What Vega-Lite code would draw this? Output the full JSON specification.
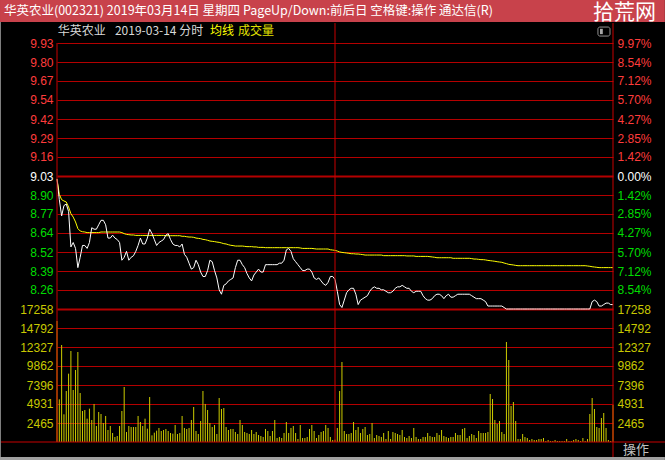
{
"$schema":"https://vega.github.io/schema/vega-lite/v6.json",
"width":556,"height":399,
"autosize":{"type":"none"},
"padding":{"left":57,"top":43,"right":52,"bottom":18},
"background":"#000000",
"config":{"view":{"stroke":null}},
"datasets":{"m":[
{"t":0,"p":9.01,"a":9.01,"v":15700},{"t":1,"p":8.87,"a":8.906,"v":5536},{"t":2,"p":8.76,"a":8.87,"v":12586},{"t":3,"p":8.83,"a":8.861,"v":3590},{"t":4,"p":8.84,"a":8.854,"v":6617},
{"t":5,"p":8.79,"a":8.82,"v":8866},{"t":6,"p":8.55,"a":8.775,"v":11807},{"t":7,"p":8.58,"a":8.752,"v":6747},{"t":8,"p":8.54,"a":8.719,"v":9342},{"t":9,"p":8.41,"a":8.674,"v":11677},
{"t":10,"p":8.48,"a":8.658,"v":6358},{"t":11,"p":8.56,"a":8.653,"v":4022},{"t":12,"p":8.56,"a":8.651,"v":4152},{"t":13,"p":8.54,"a":8.647,"v":3027},{"t":14,"p":8.58,"a":8.647,"v":4325},
{"t":15,"p":8.68,"a":8.647,"v":2855},{"t":16,"p":8.67,"a":8.647,"v":4931},{"t":17,"p":8.67,"a":8.647,"v":2076},{"t":18,"p":8.70,"a":8.647,"v":3892},{"t":19,"p":8.73,"a":8.651,"v":3633},
{"t":20,"p":8.73,"a":8.651,"v":2465},{"t":21,"p":8.70,"a":8.651,"v":3374},{"t":22,"p":8.61,"a":8.651,"v":1557},{"t":23,"p":8.61,"a":8.651,"v":2076},{"t":24,"p":8.63,"a":8.651,"v":1168},
{"t":25,"p":8.61,"a":8.651,"v":649},{"t":26,"p":8.60,"a":8.651,"v":779},{"t":27,"p":8.58,"a":8.651,"v":2076},{"t":28,"p":8.46,"a":8.647,"v":4022},{"t":29,"p":8.48,"a":8.64,"v":7136},
{"t":30,"p":8.52,"a":8.635,"v":1298},{"t":31,"p":8.46,"a":8.633,"v":2076},{"t":32,"p":8.48,"a":8.631,"v":1946},{"t":33,"p":8.49,"a":8.631,"v":1946},{"t":34,"p":8.52,"a":8.628,"v":1946},
{"t":35,"p":8.56,"a":8.628,"v":3374},{"t":36,"p":8.61,"a":8.628,"v":2595},{"t":37,"p":8.57,"a":8.628,"v":2076},{"t":38,"p":8.57,"a":8.628,"v":3027},{"t":39,"p":8.61,"a":8.628,"v":1730},
{"t":40,"p":8.67,"a":8.628,"v":5839},{"t":41,"p":8.64,"a":8.628,"v":865},{"t":42,"p":8.60,"a":8.628,"v":1211},{"t":43,"p":8.56,"a":8.628,"v":1470},{"t":44,"p":8.58,"a":8.628,"v":1817},
{"t":45,"p":8.59,"a":8.628,"v":1427},{"t":46,"p":8.60,"a":8.628,"v":1557},{"t":47,"p":8.63,"a":8.626,"v":1687},{"t":48,"p":8.64,"a":8.626,"v":1427},{"t":49,"p":8.60,"a":8.626,"v":1168},
{"t":50,"p":8.57,"a":8.626,"v":1081},{"t":51,"p":8.56,"a":8.626,"v":2206},{"t":52,"p":8.56,"a":8.626,"v":1038},{"t":53,"p":8.55,"a":8.626,"v":1168},{"t":54,"p":8.57,"a":8.622,"v":3374},
{"t":55,"p":8.50,"a":8.622,"v":1817},{"t":56,"p":8.48,"a":8.619,"v":1687},{"t":57,"p":8.44,"a":8.617,"v":1817},{"t":58,"p":8.40,"a":8.617,"v":2855},{"t":59,"p":8.41,"a":8.615,"v":4541},
{"t":60,"p":8.46,"a":8.61,"v":1427},{"t":61,"p":8.43,"a":8.608,"v":1038},{"t":62,"p":8.38,"a":8.606,"v":2725},{"t":63,"p":8.35,"a":8.601,"v":6617},{"t":64,"p":8.35,"a":8.599,"v":4931},
{"t":65,"p":8.39,"a":8.595,"v":4152},{"t":66,"p":8.46,"a":8.59,"v":2465},{"t":67,"p":8.45,"a":8.588,"v":1946},{"t":68,"p":8.39,"a":8.586,"v":2206},{"t":69,"p":8.34,"a":8.583,"v":1038},
{"t":70,"p":8.26,"a":8.581,"v":5709},{"t":71,"p":8.23,"a":8.577,"v":4282},{"t":72,"p":8.29,"a":8.572,"v":4411},{"t":73,"p":8.30,"a":8.57,"v":1946},{"t":74,"p":8.32,"a":8.565,"v":1557},
{"t":75,"p":8.33,"a":8.561,"v":1687},{"t":76,"p":8.34,"a":8.559,"v":1687},{"t":77,"p":8.41,"a":8.556,"v":1298},{"t":78,"p":8.46,"a":8.556,"v":1038},{"t":79,"p":8.46,"a":8.556,"v":2855},
{"t":80,"p":8.43,"a":8.556,"v":2206},{"t":81,"p":8.41,"a":8.554,"v":1298},{"t":82,"p":8.37,"a":8.552,"v":1168},{"t":83,"p":8.34,"a":8.552,"v":1038},{"t":84,"p":8.32,"a":8.552,"v":1557},
{"t":85,"p":8.36,"a":8.55,"v":1038},{"t":86,"p":8.38,"a":8.55,"v":1298},{"t":87,"p":8.40,"a":8.547,"v":908},{"t":88,"p":8.38,"a":8.547,"v":779},{"t":89,"p":8.38,"a":8.547,"v":649},
{"t":90,"p":8.43,"a":8.545,"v":1687},{"t":91,"p":8.43,"a":8.545,"v":1427},{"t":92,"p":8.43,"a":8.545,"v":779},{"t":93,"p":8.43,"a":8.545,"v":1427},{"t":94,"p":8.43,"a":8.545,"v":2855},
{"t":95,"p":8.43,"a":8.545,"v":519},{"t":96,"p":8.44,"a":8.545,"v":649},{"t":97,"p":8.44,"a":8.545,"v":519},{"t":98,"p":8.46,"a":8.545,"v":1168},{"t":99,"p":8.53,"a":8.545,"v":2595},
{"t":100,"p":8.54,"a":8.545,"v":1168},{"t":101,"p":8.52,"a":8.545,"v":1817},{"t":102,"p":8.47,"a":8.545,"v":2076},{"t":103,"p":8.45,"a":8.545,"v":1168},{"t":104,"p":8.43,"a":8.545,"v":389},
{"t":105,"p":8.41,"a":8.543,"v":2206},{"t":106,"p":8.39,"a":8.54,"v":519},{"t":107,"p":8.39,"a":8.54,"v":519},{"t":108,"p":8.40,"a":8.54,"v":649},{"t":109,"p":8.40,"a":8.54,"v":1687},
{"t":110,"p":8.38,"a":8.54,"v":2206},{"t":111,"p":8.34,"a":8.538,"v":1427},{"t":112,"p":8.33,"a":8.536,"v":519},{"t":113,"p":8.34,"a":8.536,"v":908},{"t":114,"p":8.32,"a":8.536,"v":1298},
{"t":115,"p":8.30,"a":8.536,"v":1427},{"t":116,"p":8.29,"a":8.536,"v":2206},{"t":117,"p":8.31,"a":8.536,"v":1817},{"t":118,"p":8.35,"a":8.531,"v":649},{"t":119,"p":8.35,"a":8.529,"v":260},
{"t":120,"p":8.33,"a":8.527,"v":300},{"t":121,"p":8.25,"a":8.522,"v":1817},{"t":122,"p":8.16,"a":8.516,"v":6617},{"t":123,"p":8.14,"a":8.513,"v":10380},{"t":124,"p":8.19,"a":8.511,"v":1427},
{"t":125,"p":8.24,"a":8.509,"v":1038},{"t":126,"p":8.26,"a":8.507,"v":1038},{"t":127,"p":8.27,"a":8.504,"v":1168},{"t":128,"p":8.27,"a":8.504,"v":2595},{"t":129,"p":8.23,"a":8.502,"v":1557},
{"t":130,"p":8.16,"a":8.502,"v":1946},{"t":131,"p":8.19,"a":8.5,"v":1168},{"t":132,"p":8.20,"a":8.498,"v":1687},{"t":133,"p":8.21,"a":8.495,"v":1946},{"t":134,"p":8.22,"a":8.495,"v":908},
{"t":135,"p":8.25,"a":8.495,"v":1038},{"t":136,"p":8.27,"a":8.495,"v":2465},{"t":137,"p":8.28,"a":8.495,"v":519},{"t":138,"p":8.27,"a":8.495,"v":908},{"t":139,"p":8.27,"a":8.495,"v":779},
{"t":140,"p":8.26,"a":8.495,"v":649},{"t":141,"p":8.26,"a":8.491,"v":1168},{"t":142,"p":8.25,"a":8.491,"v":389},{"t":143,"p":8.24,"a":8.491,"v":1427},{"t":144,"p":8.24,"a":8.491,"v":389},
{"t":145,"p":8.25,"a":8.491,"v":1298},{"t":146,"p":8.27,"a":8.491,"v":1168},{"t":147,"p":8.28,"a":8.491,"v":1038},{"t":148,"p":8.28,"a":8.491,"v":908},{"t":149,"p":8.29,"a":8.491,"v":1557},
{"t":150,"p":8.28,"a":8.491,"v":649},{"t":151,"p":8.27,"a":8.489,"v":519},{"t":152,"p":8.27,"a":8.489,"v":779},{"t":153,"p":8.25,"a":8.489,"v":519},{"t":154,"p":8.24,"a":8.489,"v":1817},
{"t":155,"p":8.25,"a":8.486,"v":649},{"t":156,"p":8.25,"a":8.486,"v":389},{"t":157,"p":8.25,"a":8.486,"v":389},{"t":158,"p":8.22,"a":8.486,"v":649},{"t":159,"p":8.20,"a":8.486,"v":649},
{"t":160,"p":8.19,"a":8.486,"v":1168},{"t":161,"p":8.19,"a":8.484,"v":779},{"t":162,"p":8.20,"a":8.482,"v":649},{"t":163,"p":8.22,"a":8.48,"v":649},{"t":164,"p":8.23,"a":8.477,"v":1168},
{"t":165,"p":8.23,"a":8.477,"v":908},{"t":166,"p":8.22,"a":8.477,"v":1557},{"t":167,"p":8.20,"a":8.477,"v":779},{"t":168,"p":8.22,"a":8.477,"v":649},{"t":169,"p":8.23,"a":8.477,"v":519},
{"t":170,"p":8.21,"a":8.477,"v":649},{"t":171,"p":8.21,"a":8.473,"v":649},{"t":172,"p":8.22,"a":8.473,"v":1168},{"t":173,"p":8.23,"a":8.473,"v":908},{"t":174,"p":8.23,"a":8.473,"v":908},
{"t":175,"p":8.23,"a":8.473,"v":1687},{"t":176,"p":8.23,"a":8.473,"v":1817},{"t":177,"p":8.23,"a":8.473,"v":519},{"t":178,"p":8.23,"a":8.473,"v":779},{"t":179,"p":8.22,"a":8.471,"v":1038},
{"t":180,"p":8.21,"a":8.468,"v":908},{"t":181,"p":8.20,"a":8.468,"v":519},{"t":182,"p":8.20,"a":8.466,"v":1427},{"t":183,"p":8.20,"a":8.464,"v":1168},{"t":184,"p":8.19,"a":8.464,"v":1168},
{"t":185,"p":8.18,"a":8.462,"v":1168},{"t":186,"p":8.15,"a":8.459,"v":1298},{"t":187,"p":8.15,"a":8.457,"v":6228},{"t":188,"p":8.15,"a":8.455,"v":5579},{"t":189,"p":8.15,"a":8.453,"v":2855},
{"t":190,"p":8.15,"a":8.45,"v":2336},{"t":191,"p":8.15,"a":8.448,"v":2725},{"t":192,"p":8.15,"a":8.446,"v":1298},{"t":193,"p":8.14,"a":8.441,"v":1038},{"t":194,"p":8.13,"a":8.437,"v":12975},
{"t":195,"p":8.13,"a":8.432,"v":10640},{"t":196,"p":8.13,"a":8.43,"v":4671},{"t":197,"p":8.13,"a":8.428,"v":5190},{"t":198,"p":8.13,"a":8.425,"v":2725},{"t":199,"p":8.13,"a":8.423,"v":389},
{"t":200,"p":8.13,"a":8.423,"v":389},{"t":201,"p":8.13,"a":8.423,"v":1038},{"t":202,"p":8.13,"a":8.423,"v":649},{"t":203,"p":8.13,"a":8.423,"v":519},{"t":204,"p":8.13,"a":8.423,"v":260},
{"t":205,"p":8.13,"a":8.423,"v":389},{"t":206,"p":8.13,"a":8.423,"v":260},{"t":207,"p":8.13,"a":8.423,"v":260},{"t":208,"p":8.13,"a":8.423,"v":389},{"t":209,"p":8.13,"a":8.423,"v":389},
{"t":210,"p":8.13,"a":8.423,"v":519},{"t":211,"p":8.13,"a":8.423,"v":130},{"t":212,"p":8.13,"a":8.423,"v":260},{"t":213,"p":8.13,"a":8.423,"v":130},{"t":214,"p":8.13,"a":8.423,"v":130},
{"t":215,"p":8.13,"a":8.423,"v":260},{"t":216,"p":8.13,"a":8.423,"v":130},{"t":217,"p":8.13,"a":8.423,"v":130},{"t":218,"p":8.13,"a":8.423,"v":130},{"t":219,"p":8.13,"a":8.423,"v":130},
{"t":220,"p":8.13,"a":8.423,"v":389},{"t":221,"p":8.13,"a":8.423,"v":130},{"t":222,"p":8.13,"a":8.423,"v":130},{"t":223,"p":8.13,"a":8.423,"v":260},{"t":224,"p":8.13,"a":8.423,"v":389},
{"t":225,"p":8.13,"a":8.423,"v":260},{"t":226,"p":8.13,"a":8.423,"v":130},{"t":227,"p":8.13,"a":8.423,"v":519},{"t":228,"p":8.13,"a":8.423,"v":130},{"t":229,"p":8.13,"a":8.421,"v":389},
{"t":230,"p":8.13,"a":8.419,"v":3633},{"t":231,"p":8.18,"a":8.416,"v":5709},{"t":232,"p":8.19,"a":8.414,"v":4282},{"t":233,"p":8.18,"a":8.412,"v":1946},{"t":234,"p":8.15,"a":8.41,"v":1817},
{"t":235,"p":8.15,"a":8.41,"v":3114},{"t":236,"p":8.16,"a":8.41,"v":3763},{"t":237,"p":8.17,"a":8.41,"v":1817},{"t":238,"p":8.17,"a":8.41,"v":260},{"t":239,"p":8.16,"a":8.41,"v":130},
{"t":240,"p":8.16,"a":8.41,"v":4800}
]},
"resolve":{"scale":{"y":"independent"},"axis":{"y":"independent"}},
"layer":[
{"data":{"values":[{}]},"mark":{"type":"rect","color":"#c8424b"},
 "encoding":{"x":{"datum":-24.6,"type":"quantitative","scale":{"domain":[0,240],"nice":false,"zero":false},"axis":null},"x2":{"datum":262.4},
 "y":{"datum":10.225,"type":"quantitative","scale":{"domain":[8.13,9.93],"range":[266,0],"nice":false,"zero":false},"axis":null},"y2":{"datum":10.072}}},
{"data":{"values":[{}]},"mark":{"type":"text","text":"华英农业(002321) 2019年03月14日 星期四 PageUp/Down:前后日 空格键:操作 通达信(R)","align":"left","baseline":"middle","color":"#ffffff","font":"Noto Sans CJK SC","fontSize":12.5},
 "encoding":{"x":{"datum":-22.9,"type":"quantitative","scale":{"domain":[0,240],"nice":false,"zero":false},"axis":null},
 "y":{"datum":10.1465,"type":"quantitative","scale":{"domain":[8.13,9.93],"range":[266,0],"nice":false,"zero":false},"axis":null}}},
{"data":{"values":[{}]},"mark":{"type":"text","text":"拾荒网","align":"center","baseline":"middle","color":"#ffffff","font":"Noto Sans CJK SC","fontSize":21},
 "encoding":{"x":{"datum":245.0,"type":"quantitative","scale":{"domain":[0,240],"nice":false,"zero":false},"axis":null},
 "y":{"datum":10.133,"type":"quantitative","scale":{"domain":[8.13,9.93],"range":[266,0],"nice":false,"zero":false},"axis":null}}},
{"data":{"values":[{}]},"mark":{"type":"text","text":"华英农业","align":"left","baseline":"middle","color":"#d8d8d8","font":"Noto Sans CJK SC","fontSize":12},
 "encoding":{"x":{"datum":0.3,"type":"quantitative","scale":{"domain":[0,240],"nice":false,"zero":false},"axis":null},
 "y":{"datum":10.011,"type":"quantitative","scale":{"domain":[8.13,9.93],"range":[266,0],"nice":false,"zero":false},"axis":null}}},
{"data":{"values":[{}]},"mark":{"type":"text","text":"2019-03-14 分时","align":"left","baseline":"middle","color":"#d8d8d8","font":"Noto Sans CJK SC","fontSize":12},
 "encoding":{"x":{"datum":25.0,"type":"quantitative","scale":{"domain":[0,240],"nice":false,"zero":false},"axis":null},
 "y":{"datum":10.011,"type":"quantitative","scale":{"domain":[8.13,9.93],"range":[266,0],"nice":false,"zero":false},"axis":null}}},
{"data":{"values":[{}]},"mark":{"type":"text","text":"均线","align":"left","baseline":"middle","color":"#ffff00","font":"Noto Sans CJK SC","fontSize":12},
 "encoding":{"x":{"datum":66.0,"type":"quantitative","scale":{"domain":[0,240],"nice":false,"zero":false},"axis":null},
 "y":{"datum":10.011,"type":"quantitative","scale":{"domain":[8.13,9.93],"range":[266,0],"nice":false,"zero":false},"axis":null}}},
{"data":{"values":[{}]},"mark":{"type":"text","text":"成交量","align":"left","baseline":"middle","color":"#e0e000","font":"Noto Sans CJK SC","fontSize":12},
 "encoding":{"x":{"datum":78.1,"type":"quantitative","scale":{"domain":[0,240],"nice":false,"zero":false},"axis":null},
 "y":{"datum":10.011,"type":"quantitative","scale":{"domain":[8.13,9.93],"range":[266,0],"nice":false,"zero":false},"axis":null}}},
{"data":{"values":[{}]},"mark":{"type":"rect","fill":null,"stroke":"#909090","strokeWidth":1,"cornerRadius":2},
 "encoding":{"x":{"datum":233.5,"type":"quantitative","scale":{"domain":[0,240],"nice":false,"zero":false},"axis":null},"x2":{"datum":238.7},
 "y":{"datum":10.038,"type":"quantitative","scale":{"domain":[8.13,9.93],"range":[266,0],"nice":false,"zero":false},"axis":null},"y2":{"datum":9.977}}},
{"data":{"values":[{}]},"mark":{"type":"rect","color":"#a8a8a8"},
 "encoding":{"x":{"datum":234.4,"type":"quantitative","scale":{"domain":[0,240],"nice":false,"zero":false},"axis":null},"x2":{"datum":235.6},
 "y":{"datum":10.026,"type":"quantitative","scale":{"domain":[8.13,9.93],"range":[266,0],"nice":false,"zero":false},"axis":null},"y2":{"datum":9.99}}},
{"data":{"name":"m"},"mark":{"type":"rule","color":"#cccc00","strokeWidth":1},
 "encoding":{"x":{"field":"t","type":"quantitative","scale":{"domain":[0,240],"nice":false,"zero":false},
   "axis":{"orient":"bottom","values":[0,30,60,90,120,150,180,210,240],"labelExpr":"datum.value==0?'09:30':datum.value==60?'10:30':datum.value==120?'13:00':datum.value==180?'14:00':datum.value==240?'15:00':''","labelAlign":"right","labelBaseline":"top","labelFlush":false,"labelOverlap":false,"labelColor":"#ff3c3c","labelFont":"Liberation Sans","labelFontSize":12,"labelPadding":2,"ticks":false,"domain":false,"grid":true,"gridColor":"#c80000","gridDash":[1,2],"gridWidth":1,"title":null}},
 "y":{"field":"v","type":"quantitative","scale":{"domain":[0,17258],"range":[399,266],"nice":false,"zero":false},
   "axis":{"orient":"left","values":[2465,4931,7396,9862,12327,14792,17258],"format":"d","title":null,"ticks":false,"labelPadding":4,"labelColor":"#c8c800","labelFont":"Liberation Sans","labelFontSize":12,"labelOverlap":false,"domain":false,"grid":true,"gridColor":"#b40000","gridWidth":{"condition":{"test":"datum.value>17000","value":2},"value":1}}},
 "y2":{"datum":0}}},
{"data":{"values":[{}]},"mark":{"type":"rule","color":"#c80000","strokeWidth":1},
 "encoding":{"x":{"datum":-24.6,"type":"quantitative","scale":{"domain":[0,240],"nice":false,"zero":false},"axis":null},"x2":{"datum":262.4},
 "y":{"datum":0,"type":"quantitative","scale":{"domain":[0,17258],"range":[399,266],"nice":false,"zero":false},
   "axis":{"orient":"right","values":[2465,4931,7396,9862,12327,14792,17258],"format":"d","title":null,"ticks":false,"labelPadding":4,"labelColor":"#c8c800","labelFont":"Liberation Sans","labelFontSize":12,"labelOverlap":false,"domain":false,"grid":false}}}},
{"data":{"name":"m"},"mark":{"type":"line","color":"#ffff00","strokeWidth":1},
 "encoding":{"x":{"field":"t","type":"quantitative","scale":{"domain":[0,240],"nice":false,"zero":false},"axis":null},
 "y":{"field":"a","type":"quantitative","scale":{"domain":[8.13,9.93],"range":[266,0],"nice":false,"zero":false},
   "axis":{"orient":"right","values":[8.2586,8.3871,8.5157,8.6443,8.7729,8.9014,9.03,9.1586,9.2871,9.4157,9.5443,9.6729,9.8014,9.93],"labelExpr":"format(abs(datum.value-9.03)/9.03*100,'.2f')+'%'","title":null,"ticks":false,"labelPadding":4,"labelFont":"Liberation Sans","labelFontSize":12,"labelOverlap":false,"domain":false,"grid":false,
     "labelColor":{"condition":[{"test":"datum.value>9.035","value":"#ff3c3c"},{"test":"datum.value<9.025","value":"#00dd00"}],"value":"#ffffff"}}}}},
{"data":{"name":"m"},"mark":{"type":"line","color":"#ffffff","strokeWidth":1},
 "encoding":{"x":{"field":"t","type":"quantitative","scale":{"domain":[0,240],"nice":false,"zero":false},"axis":null},
 "y":{"field":"p","type":"quantitative","scale":{"domain":[8.13,9.93],"range":[266,0],"nice":false,"zero":false},
   "axis":{"orient":"left","values":[8.2586,8.3871,8.5157,8.6443,8.7729,8.9014,9.03,9.1586,9.2871,9.4157,9.5443,9.6729,9.8014,9.93],"format":".2f","title":null,"ticks":false,"labelPadding":4,"labelFont":"Liberation Sans","labelFontSize":12,"labelOverlap":false,"domain":false,"grid":true,"gridColor":"#b40000",
     "gridWidth":{"condition":{"test":"abs(datum.value-9.03)<0.001","value":2},"value":1},
     "labelColor":{"condition":[{"test":"datum.value>9.035","value":"#ff3c3c"},{"test":"datum.value<9.025","value":"#00dd00"}],"value":"#ffffff"}}}}},
{"data":{"values":[{}]},"mark":{"type":"rule","color":"#c80000","strokeWidth":1},
 "encoding":{"x":{"datum":0,"type":"quantitative","scale":{"domain":[0,240],"nice":false,"zero":false},"axis":null},
 "y":{"datum":9.93,"type":"quantitative","scale":{"domain":[8.13,9.93],"range":[266,0],"nice":false,"zero":false},"axis":null},"y2":{"datum":7.2306}}},
{"data":{"values":[{}]},"mark":{"type":"rule","color":"#c80000","strokeWidth":1},
 "encoding":{"x":{"datum":120,"type":"quantitative","scale":{"domain":[0,240],"nice":false,"zero":false},"axis":null},
 "y":{"datum":10.065,"type":"quantitative","scale":{"domain":[8.13,9.93],"range":[266,0],"nice":false,"zero":false},"axis":null},"y2":{"datum":7.2306}}},
{"data":{"values":[{}]},"mark":{"type":"rule","color":"#c80000","strokeWidth":1},
 "encoding":{"x":{"datum":240,"type":"quantitative","scale":{"domain":[0,240],"nice":false,"zero":false},"axis":null},
 "y":{"datum":10.065,"type":"quantitative","scale":{"domain":[8.13,9.93],"range":[266,0],"nice":false,"zero":false},"axis":null},"y2":{"datum":7.108}}},
{"data":{"values":[{}]},"mark":{"type":"rule","color":"#808080","strokeWidth":1},
 "encoding":{"x":{"datum":-24.39,"type":"quantitative","scale":{"domain":[0,240],"nice":false,"zero":false},"axis":null},
 "y":{"datum":10.072,"type":"quantitative","scale":{"domain":[8.13,9.93],"range":[266,0],"nice":false,"zero":false},"axis":null},"y2":{"datum":7.108}}},
{"data":{"values":[{}]},"mark":{"type":"rect","color":"#a0a0a0"},
 "encoding":{"x":{"datum":-24.6,"type":"quantitative","scale":{"domain":[0,240],"nice":false,"zero":false},"axis":null},"x2":{"datum":262.4},
 "y":{"datum":7.1285,"type":"quantitative","scale":{"domain":[8.13,9.93],"range":[266,0],"nice":false,"zero":false},"axis":null},"y2":{"datum":7.1}}},
{"data":{"values":[{}]},"mark":{"type":"text","text":"操作","align":"center","baseline":"middle","color":"#c0c0c0","font":"Noto Sans CJK SC","fontSize":13},
 "encoding":{"x":{"datum":249.9,"type":"quantitative","scale":{"domain":[0,240],"nice":false,"zero":false},"axis":null},
 "y":{"datum":7.176,"type":"quantitative","scale":{"domain":[8.13,9.93],"range":[266,0],"nice":false,"zero":false},"axis":null}}}
]
}
